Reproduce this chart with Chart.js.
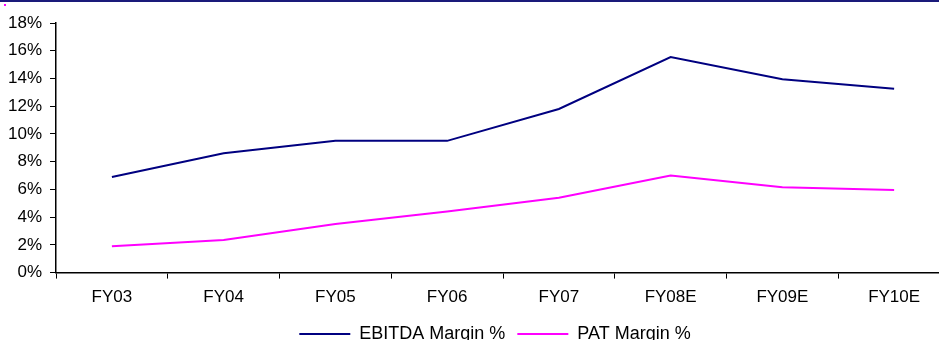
<!DOCTYPE html>
<html>
<head>
<meta charset="utf-8">
<script src="https://cdn.jsdelivr.net/npm/chart.js@4.4.1/dist/chart.umd.min.js"></script>
<style>
  html, body { margin: 0; padding: 0; overflow: hidden; background: #fff; }
  #wrap { position: relative; width: 950px; height: 358px; border-top: 2px solid #1a1a7a; }
  #dot { position: absolute; left: 4px; top: 2px; width: 2px; height: 2px; background: #ff00ff; }
</style>
</head>
<body>
<div id="wrap">
  <div id="dot"></div>
  <canvas id="chart" width="950" height="355"></canvas>
</div>
<script>
const years = ["FY03", "FY04", "FY05", "FY06", "FY07", "FY08E", "FY09E", "FY10E"];
const ebitdaMargin = [6.9, 8.6, 9.5, 9.5, 11.8, 15.55, 13.95, 13.25];
const patMargin = [1.9, 2.35, 3.5, 4.4, 5.4, 7.0, 6.15, 5.95];

Chart.defaults.font.family = "'Liberation Sans', Arial, sans-serif";
Chart.defaults.font.size = 17;
Chart.defaults.color = "#000";

// the legend in the original sits a bit right of centre and close under the labels
const legendShift = {
  id: "legendShift",
  afterLayout(chart) {
    const lg = chart.legend;
    lg.left += 20;
    lg.right += 20;
    lg.top -= 4;
    lg.bottom -= 4;
  },
};

function marginChart(ctx) {
  let config = {
    type: "line",
    data: {
      labels: years,
      datasets: [
        {
          label: "EBITDA Margin %",
          data: ebitdaMargin,
          borderColor: "#000080",
          backgroundColor: "#000080",
          borderWidth: 2,
          pointRadius: 0,
          tension: 0,
        },
        {
          label: "PAT Margin %",
          data: patMargin,
          borderColor: "#ff00ff",
          backgroundColor: "#ff00ff",
          borderWidth: 2,
          pointRadius: 0,
          tension: 0,
        },
      ],
    },
    options: {
      responsive: false,
      animation: false,
      layout: { padding: { top: 21, left: 0, right: 0, bottom: 0 } },
      plugins: {
        tooltip: { enabled: false },
        legend: {
          position: "bottom",
          labels: {
            usePointStyle: true,
            pointStyle: "line",
            pointStyleWidth: 51,
            padding: 12,
            font: { size: 18 },
          },
        },
      },
      scales: {
        x: {
          offset: true,
          grid: { display: true, drawOnChartArea: false, offset: true, tickLength: 6, color: "#000" },
          border: { color: "#000", width: 1.5 },
          ticks: { padding: 9 },
        },
        y: {
          min: 0,
          max: 18,
          ticks: { stepSize: 2, padding: 8, callback: (v) => v + "%" },
          grid: { display: true, drawOnChartArea: false, tickLength: 6, color: "#000" },
          border: { color: "#000", width: 1.5 },
        },
      },
    },
    plugins: [legendShift],
  };
  return new Chart(ctx, config);
}

marginChart(document.getElementById("chart"));
</script>
</body>
</html>
